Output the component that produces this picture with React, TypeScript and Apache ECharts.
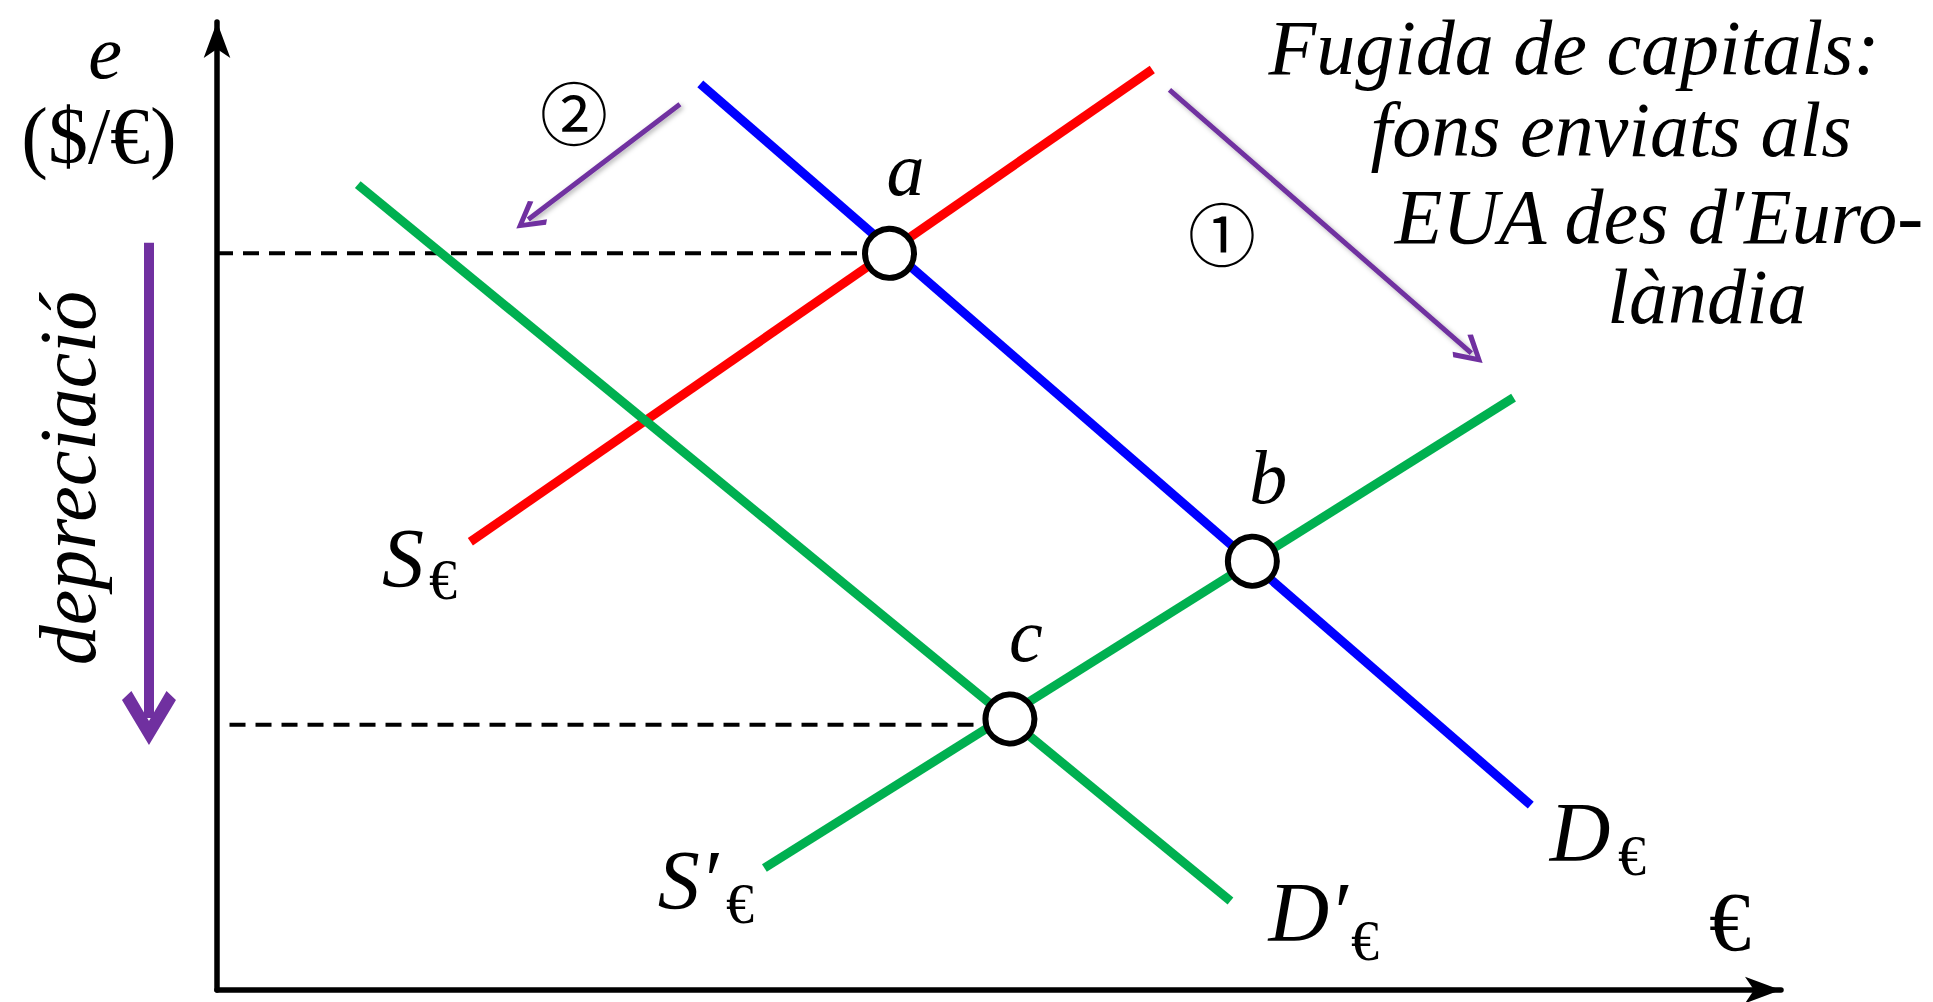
import { useEffect, useRef } from 'react';
import * as echarts from 'echarts';

// Curves (data units: x 0..100, y 0..100)
const supplyEuro = [[16.2, 46.3], [59.8, 95.1]];
const demandEuro = [[30.9, 93.6], [84.0, 19.1]];
const demandEuroNew = [[9.0, 83.2], [64.8, 9.2]];
const supplyEuroNew = [[35.0, 12.6], [82.9, 61.2]];

const equilibria = [
  { name: 'a', value: [43.0, 76.1] },
  { name: 'b', value: [66.2, 44.3] },
  { name: 'c', value: [50.7, 28.0] },
];

const dashedLevels = [
  [[0, 76.1], [43.0, 76.1]],
  [[0.8, 27.4], [50.7, 27.4]],
];

const shiftArrows = [
  [[60.9, 93.0], [80.2, 65.8]],
  [[29.6, 91.5], [19.9, 79.6]],
];
const depreciationArrow = [[-4.35, 77.2], [-4.35, 28.1]];

const titleLines = ['Fugida de capitals:', 'fons enviats als', 'EUA des d\u2032Euro-', 'làndia'];

const PURPLE = '#7030A0';
const GREEN = '#00B050';
const SERIF = 'Liberation Serif';

const chevronThin = 'path://M10,0 L20,16 L17.5,18.5 L10,6 L2.5,18.5 L0,16 Z';
const chevronThick = 'path://M10,0 L20,15 L16.5,18 L10,8 L3.5,18 L0,15 Z';

function txt(text: string, x: number, y: number, size: number, italic: boolean, family = SERIF, rotation = 0) {
  return {
    type: 'text',
    x,
    y,
    rotation,
    z: 100,
    style: {
      text,
      fontSize: size,
      fontStyle: italic ? 'italic' : 'normal',
      fontFamily: family,
      fill: '#000',
      align: 'center',
      verticalAlign: 'middle',
    },
  };
}

export default function App() {
  const ref = useRef<HTMLDivElement>(null);
  useEffect(() => {
    const chart = echarts.init(ref.current!, null, { renderer: 'svg' });
    const axisCommon = {
      type: 'value',
      min: 0,
      max: 100,
      axisTick: { show: false },
      axisLabel: { show: false },
      splitLine: { show: false },
    };
    const axisLine = {
      show: true,
      onZero: false,
      symbol: ['none', 'arrow'],
      symbolSize: [20, 36],
      lineStyle: { color: '#000', width: 5.5 },
    };
    const lineSeries = (data: number[][], color: string, width: number, dashed = false) => ({
      type: 'line',
      data,
      symbol: 'none',
      silent: true,
      z: dashed ? 2 : 3,
      lineStyle: { color, width, type: dashed ? [16, 10] : 'solid', cap: 'butt' },
    });
    const arrowShadow = { shadowBlur: 5, shadowColor: 'rgba(0,0,0,0.3)', shadowOffsetX: 2, shadowOffsetY: 2 };
    const option = {
      animation: false,
      backgroundColor: '#fff',
      grid: { left: 217, right: 152, top: 22, bottom: 12 },
      xAxis: { ...axisCommon, axisLine },
      yAxis: { ...axisCommon, axisLine },
      series: [
        ...dashedLevels.map((d) => lineSeries(d, '#000', 4, true)),
        lineSeries(supplyEuro, '#FF0000', 9),
        lineSeries(demandEuro, '#0000FF', 9),
        lineSeries(demandEuroNew, GREEN, 9),
        lineSeries(supplyEuroNew, GREEN, 9),
        {
          type: 'lines',
          coordinateSystem: 'cartesian2d',
          clip: false,
          silent: true,
          symbol: ['none', chevronThin],
          symbolSize: [36, 30],
          lineStyle: { color: PURPLE, width: 5, opacity: 1, ...arrowShadow },
          data: shiftArrows.map((c) => ({ coords: c })),
          z: 4,
        },
        {
          type: 'lines',
          coordinateSystem: 'cartesian2d',
          clip: false,
          silent: true,
          symbol: ['none', chevronThick],
          symbolSize: [52, 54],
          lineStyle: { color: PURPLE, width: 10, opacity: 1 },
          data: [{ coords: depreciationArrow }],
          z: 4,
        },
        {
          type: 'scatter',
          data: equilibria,
          symbol: 'circle',
          symbolSize: 49,
          silent: true,
          z: 10,
          itemStyle: { color: '#fff', borderColor: '#000', borderWidth: 6, opacity: 1 },
          label: {
            show: true,
            position: 'inside',
            formatter: '{b}',
            offset: [16, -84],
            fontSize: 76,
            fontStyle: 'italic',
            fontFamily: SERIF,
            color: '#000',
          },
        },
      ],
      graphic: [
        txt('e', 105, 52, 76, true),
        txt('($/€)', 99, 136, 80, false),
        txt('depreciació', 68, 478, 80, true, SERIF, Math.PI / 2),
        txt(titleLines[0], 1574, 47, 78, true),
        txt(titleLines[1], 1611, 129, 78, true),
        txt(titleLines[2], 1659, 216, 78, true),
        txt(titleLines[3], 1707, 296, 78, true),
        txt('S', 403, 558, 84, true),
        txt('€', 443, 580, 56, false),
        txt('D', 1580, 832, 84, true),
        txt('€', 1632, 856, 56, false),
        txt('S\u2032', 688, 880, 84, true),
        txt('€', 740, 904, 56, false),
        txt('D\u2032', 1308, 912, 84, true),
        txt('€', 1365, 941, 56, false),
        txt('€', 1730, 922, 84, false),
        txt('①', 1222, 231, 68, false, 'Noto Sans CJK JP'),
        txt('②', 574, 110, 68, false, 'Noto Sans CJK JP'),
      ],
    };
    chart.setOption(option as any);
    return () => chart.dispose();
  }, []);
  return (
    <div
      ref={ref}
      style={{ position: 'fixed', left: 0, top: 0, width: 1933, height: 1002, background: '#fff' }}
    />
  );
}
